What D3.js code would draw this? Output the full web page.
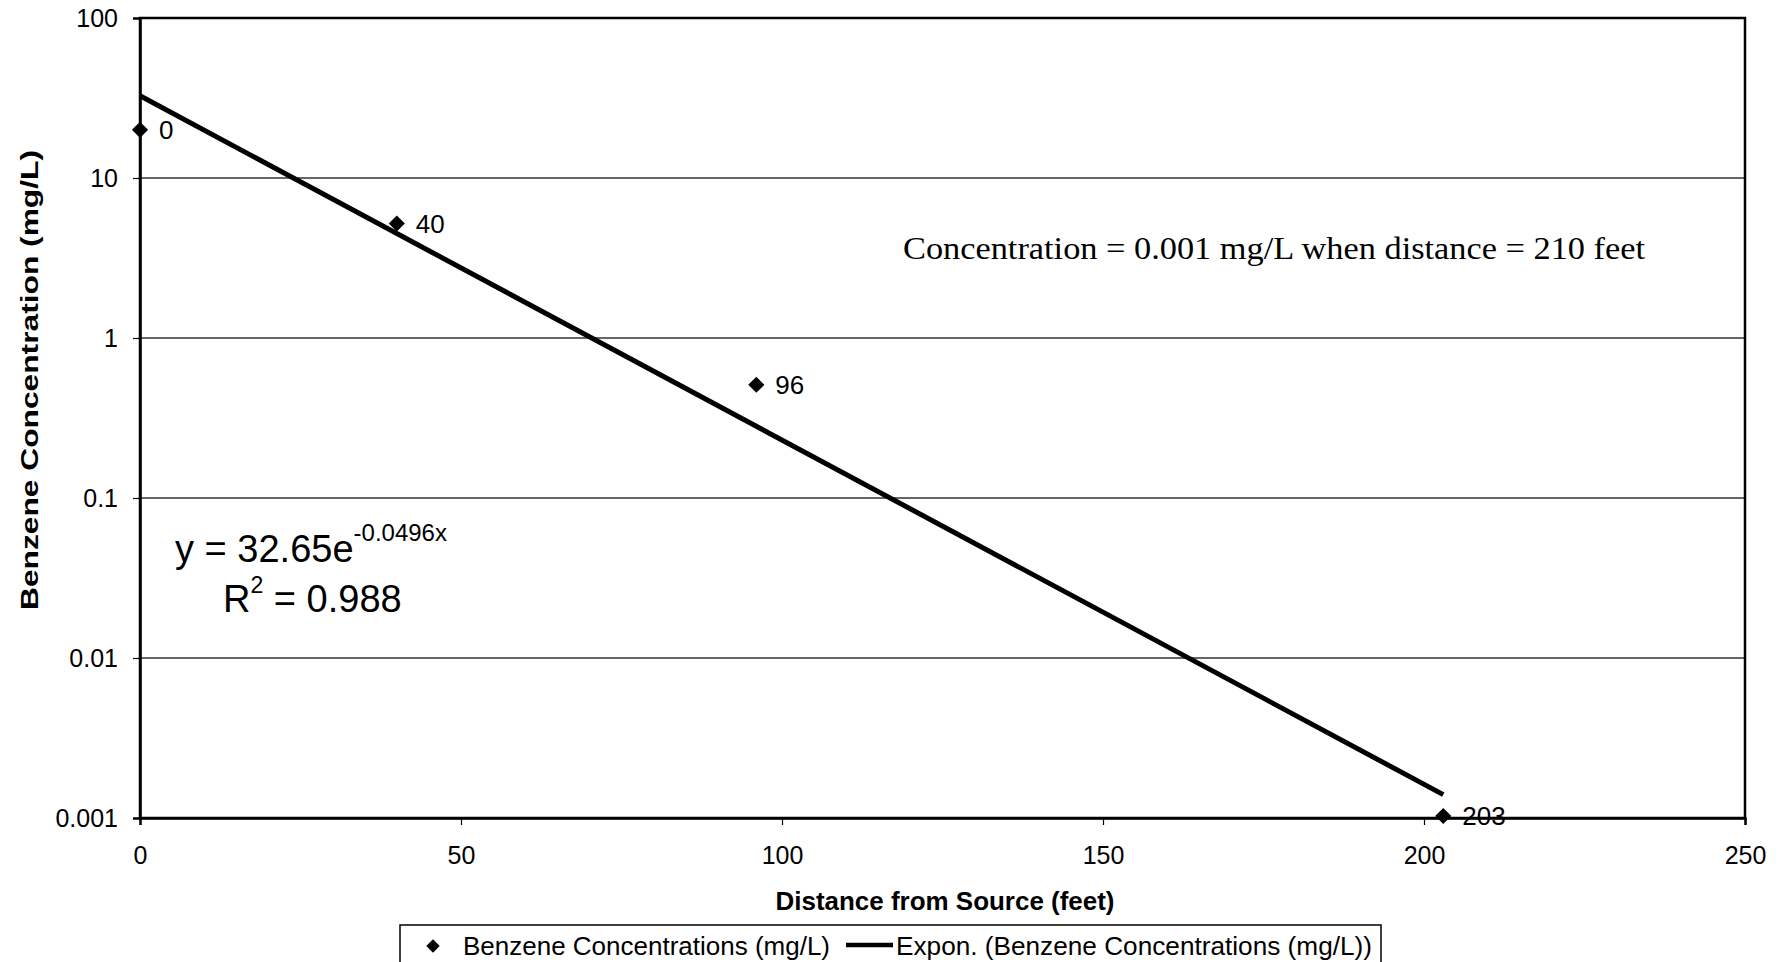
<!DOCTYPE html>
<html>
<head>
<meta charset="utf-8">
<script src="https://cdn.jsdelivr.net/npm/d3@7"></script>
<style>
    body { margin: 0; background: #fff; }
    svg { display: block; }
    text { font-family: Arial, "Liberation Sans", sans-serif; fill: #000; }
</style>
</head>
<body>
<svg id="chart" width="1788" height="962"></svg>
<script>
// Data
const distances = [0, 40, 96, 203];
const concentrations = [20, 5.2, 0.51, 0.00103];
const pointLabels = ["0", "40", "96", "203"];

// Exponential trend line end points (y = 32.65e^-0.0496x)
const trendX = [0, 203];
const trendY = [32.65, 0.0014];

const xTicks = [0, 50, 100, 150, 200, 250];
const yTicks = [0.001, 0.01, 0.1, 1, 10, 100];
const yTickLabels = ["0.001", "0.01", "0.1", "1", "10", "100"];

const svg = d3.select("#chart");

const x = d3.scaleLinear().domain([0, 250]).range([140, 1745]);
const y = d3.scaleLog().domain([0.001, 100]).range([818, 18]);

// Gridlines
svg.append("g")
    .selectAll("line")
    .data(yTicks.slice(1, -1))
    .enter()
    .append("line")
    .attr("x1", x(0))
    .attr("x2", x(250))
    .attr("y1", d => y(d))
    .attr("y2", d => y(d))
    .attr("stroke", "#333")
    .attr("stroke-width", 1.4);

// Plot frame
svg.append("rect")
    .attr("x", x(0))
    .attr("y", y(100))
    .attr("width", x(250) - x(0))
    .attr("height", y(0.001) - y(100))
    .attr("fill", "none")
    .attr("stroke", "#000")
    .attr("stroke-width", 2.5);

// Axes
const yAxis = svg.append("g")
    .attr("transform", `translate(${x(0)},0)`)
    .call(d3.axisLeft(y)
        .tickValues(yTicks)
        .tickFormat((d, i) => yTickLabels[i])
        .tickSize(7)
        .tickPadding(15));

const xAxis = svg.append("g")
    .attr("transform", `translate(0,${y(0.001)})`)
    .call(d3.axisBottom(x)
        .tickValues(xTicks)
        .tickFormat(d3.format("d"))
        .tickSize(7)
        .tickPadding(21));

[yAxis, xAxis].forEach(a => {
    a.select(".domain").attr("stroke", "#000").attr("stroke-width", 2.5);
    a.selectAll(".tick line").attr("stroke", "#000").attr("stroke-width", 1.2);
    a.selectAll(".tick text")
        .style("font-family", "Arial, 'Liberation Sans', sans-serif")
        .style("font-size", "25px")
        .attr("fill", "#000");
});

// Axis titles
svg.append("text")
    .attr("transform", "translate(38,380) rotate(-90)")
    .attr("text-anchor", "middle")
    .attr("textLength", 460)
    .attr("lengthAdjust", "spacingAndGlyphs")
    .style("font-size", "23px")
    .style("font-weight", "bold")
    .text("Benzene Concentration (mg/L)");

svg.append("text")
    .attr("x", 945)
    .attr("y", 910)
    .attr("text-anchor", "middle")
    .attr("textLength", 339)
    .attr("lengthAdjust", "spacingAndGlyphs")
    .style("font-size", "25px")
    .style("font-weight", "bold")
    .text("Distance from Source (feet)");

// Trend line
const line = d3.line()
    .x(d => x(d[0]))
    .y(d => y(d[1]));

svg.append("path")
    .datum(d3.zip(trendX, trendY))
    .attr("d", line)
    .attr("fill", "none")
    .attr("stroke", "#000")
    .attr("stroke-width", 5);

// Data points
const points = d3.zip(distances, concentrations, pointLabels);
const diamond = d3.symbol().type(d3.symbolSquare).size(130);

svg.append("g")
    .selectAll("path")
    .data(points)
    .enter()
    .append("path")
    .attr("d", diamond)
    .attr("transform", d => `translate(${x(d[0])},${y(d[1])}) rotate(45)`)
    .attr("fill", "#000");

svg.append("g")
    .selectAll("text")
    .data(points)
    .enter()
    .append("text")
    .attr("x", d => x(d[0]) + 19)
    .attr("y", d => y(d[1]))
    .attr("dy", "0.36em")
    .style("font-size", "26px")
    .text(d => d[2]);

// Fit equation
const eq = svg.append("text")
    .attr("x", 175)
    .attr("y", 562)
    .style("font-size", "38px");
eq.append("tspan").text("y = 32.65e");
eq.append("tspan")
    .attr("dy", -21)
    .style("font-size", "24px")
    .text("-0.0496x");

const r2 = svg.append("text")
    .attr("x", 223)
    .attr("y", 612)
    .style("font-size", "38px");
r2.append("tspan").text("R");
r2.append("tspan")
    .attr("dy", -19)
    .style("font-size", "23px")
    .text("2");
r2.append("tspan")
    .attr("dy", 19)
    .text(" = 0.988");

// Annotation
svg.append("text")
    .attr("x", 903)
    .attr("y", 259)
    .attr("textLength", 742)
    .attr("lengthAdjust", "spacingAndGlyphs")
    .style("font-family", "'Liberation Serif', 'DejaVu Serif', serif")
    .style("font-size", "32px")
    .text("Concentration = 0.001 mg/L when distance = 210 feet");

// Legend
const legend = svg.append("g");
legend.append("rect")
    .attr("x", 400)
    .attr("y", 925)
    .attr("width", 981)
    .attr("height", 60)
    .attr("fill", "#fff")
    .attr("stroke", "#000")
    .attr("stroke-width", 1.5);

legend.append("path")
    .attr("d", d3.symbol().type(d3.symbolSquare).size(90))
    .attr("transform", "translate(433,946) rotate(45)")
    .attr("fill", "#000");

legend.append("text")
    .attr("x", 463)
    .attr("y", 946)
    .attr("dy", "0.36em")
    .attr("textLength", 367)
    .attr("lengthAdjust", "spacingAndGlyphs")
    .style("font-size", "26px")
    .text("Benzene Concentrations (mg/L)");

legend.append("line")
    .attr("x1", 846)
    .attr("x2", 893)
    .attr("y1", 945)
    .attr("y2", 945)
    .attr("stroke", "#000")
    .attr("stroke-width", 4.5);

legend.append("text")
    .attr("x", 896)
    .attr("y", 946)
    .attr("dy", "0.36em")
    .attr("textLength", 476)
    .attr("lengthAdjust", "spacingAndGlyphs")
    .style("font-size", "26px")
    .text("Expon. (Benzene Concentrations (mg/L))");
</script>
</body>
</html>
